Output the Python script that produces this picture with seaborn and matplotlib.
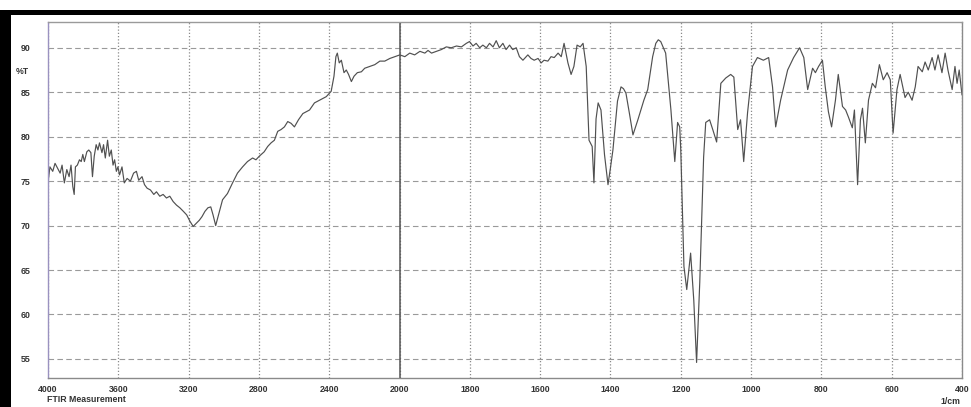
import numpy as np
import pandas as pd
import matplotlib
matplotlib.use("Agg")
import matplotlib.pyplot as plt
from matplotlib.ticker import FixedLocator, FixedFormatter
from matplotlib.patches import Rectangle
import seaborn as sns

# FTIR spectrum: wavenumber (1/cm) and transmittance (%T)
wavenumber = [
    4000, 3989, 3973, 3960, 3947, 3931, 3920, 3907, 3893, 3880, 3869, 3859, 3851, 3844,
    3833, 3821, 3811, 3802, 3793, 3779, 3768, 3756, 3747, 3737, 3726, 3716, 3707, 3693,
    3684, 3674, 3661, 3651, 3640, 3630, 3621, 3611, 3602, 3593, 3579, 3566, 3550, 3531,
    3513, 3497, 3484, 3465, 3451, 3436, 3417, 3398, 3383, 3364, 3345, 3326, 3307, 3288,
    3269, 3250, 3230, 3211, 3193, 3174, 3154, 3139, 3124, 3107, 3090, 3074, 3061, 3046,
    3027, 3007, 2979, 2950, 2922, 2893, 2865, 2836, 2817, 2798, 2770, 2750, 2731, 2712,
    2693, 2674, 2655, 2636, 2617, 2598, 2575, 2550, 2531, 2512, 2484, 2455, 2417, 2389,
    2373, 2362, 2354, 2343, 2331, 2316, 2303, 2290, 2274, 2259, 2240, 2217, 2198, 2170,
    2141, 2112, 2084, 2055, 2027, 1999, 1985, 1971, 1957, 1942, 1928, 1919, 1909, 1895,
    1881, 1867, 1853, 1838, 1824, 1810, 1801, 1791, 1782, 1772, 1763, 1753, 1744, 1734,
    1725, 1716, 1706, 1697, 1687, 1678, 1668, 1659, 1649, 1635, 1626, 1617, 1606, 1597,
    1589, 1578, 1569, 1560, 1549, 1540, 1532, 1521, 1512, 1504, 1495, 1486, 1478, 1469,
    1461, 1452, 1447, 1441, 1435, 1427, 1417, 1407, 1400, 1393, 1380, 1370, 1363, 1356,
    1346, 1336, 1322, 1305, 1294, 1280, 1271, 1264, 1257, 1243, 1235, 1228, 1217, 1209,
    1203, 1200, 1191, 1183, 1172, 1163, 1155, 1146, 1135, 1129, 1118, 1109, 1098, 1092,
    1086, 1072, 1058, 1049, 1038, 1030, 1021, 1010, 996, 982, 965, 950, 939, 930,
    916, 896, 879, 862, 850, 839, 825, 817, 808, 797, 789, 780, 771, 760,
    752, 740, 731, 723, 712, 706, 697, 689, 683, 675, 666, 655, 646, 635,
    624, 613, 604, 596, 585, 576, 562, 553, 542, 533, 525, 513, 505, 496,
    485, 477, 468, 457, 448, 440, 428, 420, 414, 408, 400,
]
transmittance = [
    74.8, 76.6, 76.1, 77.0, 76.5, 75.9, 76.8, 74.8, 76.3, 75.5, 76.8, 74.4, 73.5, 76.6,
    76.8, 77.4, 77.2, 78.0, 77.2, 78.3, 78.5, 78.2, 75.5, 77.8, 79.1, 78.5, 79.3, 78.2,
    79.1, 77.6, 79.6, 77.8, 78.5, 76.8, 77.4, 76.1, 76.6, 75.7, 76.6, 74.8, 75.3, 75.0,
    75.9, 76.1, 75.1, 75.5, 74.6, 74.2, 74.0, 73.5, 73.8, 73.3, 73.5, 73.1, 73.3, 72.7,
    72.3, 72.0, 71.6, 71.2, 70.5, 69.9, 70.3, 70.6, 71.0, 71.6, 72.0, 72.1, 71.2, 70.0,
    71.4, 72.9, 73.6, 74.8, 75.9, 76.6, 77.2, 77.6, 77.4, 77.8, 78.3, 78.9, 79.3, 79.6,
    80.6, 80.8, 81.1, 81.7, 81.5, 81.1, 81.9, 82.6, 82.8, 83.0, 83.8, 84.1, 84.5, 85.1,
    86.8, 89.0, 89.4, 88.3, 88.6, 87.2, 87.5, 87.0, 86.2, 86.8, 87.2, 87.3, 87.7, 87.9,
    88.1, 88.5, 88.5, 88.8, 89.0, 89.2, 89.0, 89.4, 89.2, 89.6, 89.4, 89.7, 89.4, 89.6,
    89.8, 90.1, 90.0, 90.2, 90.1, 90.5, 90.7, 90.2, 90.5, 90.0, 90.3, 90.0, 90.5, 90.1,
    90.8, 90.0, 90.5, 89.8, 90.3, 89.8, 90.0, 89.0, 88.6, 89.2, 88.8, 88.6, 88.8, 88.3,
    88.6, 88.5, 89.0, 88.9, 89.4, 89.0, 90.5, 88.3, 87.0, 87.9, 90.3, 90.1, 90.5, 87.9,
    79.6, 78.9, 74.8, 82.0, 83.8, 83.0, 78.0, 74.6, 76.5, 78.5, 84.0, 85.6, 85.4, 84.9,
    82.6, 80.2, 81.9, 84.1, 85.3, 89.0, 90.5, 90.9, 90.7, 89.4, 86.0, 83.0, 77.2, 81.6,
    81.1, 78.5, 65.4, 62.8, 66.9, 61.6, 54.6, 63.6, 77.7, 81.6, 81.9, 80.8, 79.4, 82.7,
    86.0, 86.6, 87.0, 86.7, 80.8, 81.9, 77.2, 82.7, 87.9, 88.9, 88.6, 88.9, 85.6, 81.1,
    84.1, 87.5, 88.9, 90.0, 88.9, 85.3, 87.7, 87.2, 87.9, 88.6, 85.6, 82.8, 81.1, 84.1,
    87.0, 83.4, 83.0, 82.2, 81.0, 83.0, 74.6, 81.9, 83.2, 79.3, 84.1, 86.0, 85.5, 88.1,
    86.4, 87.2, 86.4, 80.4, 85.3, 87.0, 84.4, 85.0, 84.1, 85.6, 87.9, 87.3, 88.4, 87.5,
    88.9, 87.5, 89.2, 87.2, 89.4, 87.5, 85.3, 87.9, 86.0, 87.5, 84.7,
]

x_major = [4000, 3600, 3200, 2800, 2400, 2000, 1800, 1600, 1400, 1200, 1000, 800, 600, 400]
x_labels = [str(v) for v in x_major]
y_major = [55, 60, 65, 70, 75, 80, 85, 90]
scale_break = 2000

df = pd.DataFrame({"wavenumber": wavenumber, "T": transmittance})

sns.set_style("white")
plt.rcParams["font.family"] = ["Liberation Sans", "DejaVu Sans"]

fig = plt.figure(figsize=(9.71, 4.07), dpi=100)
ax = fig.add_axes([48 / 971, 1 - 378 / 407, 914 / 971, 356 / 407])

sns.lineplot(data=df, x="wavenumber", y="T", ax=ax, color="#505050",
             linewidth=0.85, sort=False, estimator=None)


# Spectrometer-style axis: region below 2000 1/cm expanded two-fold
def _fwd(w):
    w = np.asarray(w, dtype=float)
    return np.where(w >= scale_break, (w - scale_break) / 400.0, (w - scale_break) / 200.0)


def _inv(t):
    t = np.asarray(t, dtype=float)
    return np.where(t >= 0, scale_break + 400.0 * t, scale_break + 200.0 * t)


ax.set_xscale("function", functions=(_fwd, _inv))
ax.set_xlim(4000, 400)
ax.set_ylim(52.85, 92.9)

minor_x = [v for v in range(4000, 2000, -80)] + [v for v in range(2000, 399, -40)]
minor_x = [v for v in minor_x if v not in x_major]
ax.xaxis.set_major_locator(FixedLocator(x_major))
ax.xaxis.set_major_formatter(FixedFormatter(x_labels))
ax.xaxis.set_minor_locator(FixedLocator(minor_x))
ax.yaxis.set_major_locator(FixedLocator(y_major))
ax.yaxis.set_minor_locator(FixedLocator([v for v in range(53, 93) if v not in y_major]))

ax.set_xlabel("")
ax.set_ylabel("")

ax.grid(axis="y", which="major", linestyle=(0, (5, 3)), color="#9a9a9a", linewidth=0.8)
ax.grid(axis="x", which="major", linestyle=(0, (1, 1.6)), color="#8a8a8a", linewidth=0.9)
ax.axvline(scale_break, color="#555555", linewidth=1.1, zorder=1)

ax.tick_params(axis="y", which="major", direction="out", length=11, width=0.8,
               color="#6f6f6f", pad=1.5, labelsize=6.3, labelcolor="#333333")
ax.tick_params(axis="y", which="minor", direction="out", length=4.5, width=0.7,
               color="#888888")
ax.tick_params(axis="x", which="major", direction="in", length=4, width=0.9,
               color="#8a80b8", pad=5, labelsize=6.3, labelcolor="#333333")
ax.tick_params(axis="x", which="minor", direction="in", length=3, width=0.7,
               color="#666666")
for lab in ax.get_xticklabels() + ax.get_yticklabels():
    lab.set_fontweight("bold")

for side, col in [("left", "#9a92c0"), ("bottom", "#8a8a8a"),
                  ("top", "#9a9a9a"), ("right", "#8a8a8a")]:
    ax.spines[side].set_visible(True)
    ax.spines[side].set_color(col)
    ax.spines[side].set_linewidth(1.0)

fig.text(22 / 971, 1 - 72 / 407, "%T", fontsize=6.3, fontweight="bold",
         color="#333333", ha="center", va="center")
fig.text(47 / 971, 1 - 399 / 407, "FTIR Measurement", fontsize=6.3,
         fontweight="bold", color="#333333", ha="left", va="center")
fig.text(950 / 971, 1 - 401 / 407, "1/cm", fontsize=6.3, fontweight="bold",
         color="#333333", ha="center", va="center")

# black scanner frame along the top and left edges
fig.patches.append(Rectangle((0, 0), 11 / 971, 1 - 10 / 407, transform=fig.transFigure,
                             facecolor="black", edgecolor="none", zorder=5))
fig.patches.append(Rectangle((0, 1 - 15 / 407), 1, 5 / 407, transform=fig.transFigure,
                             facecolor="black", edgecolor="none", zorder=5))

fig.savefig("out.png", dpi=100)
